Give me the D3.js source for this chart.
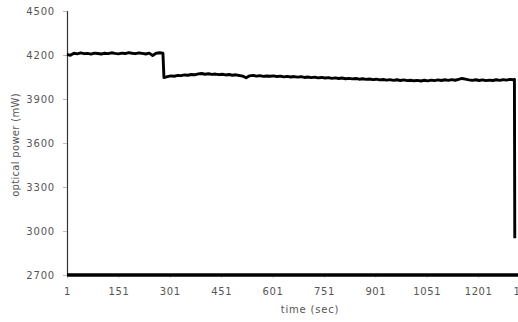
<!DOCTYPE html>
<html>
<head>
<meta charset="utf-8">
<script src="https://cdn.jsdelivr.net/npm/d3@7"></script>
<style>
  html, body { margin: 0; padding: 0; background: #fff; }
  svg { display: block; }
  text { font-family: "DejaVu Sans", sans-serif; fill: #555; }
</style>
</head>
<body>
<svg id="chart" width="518" height="322"></svg>
<script>
// ---- data ----
const xTicks = [1, 151, 301, 451, 601, 751, 901, 1051, 1201, 1351];
const yTicks = [2700, 3000, 3300, 3600, 3900, 4200, 4500];
const xTitle = "time (sec)";
const yTitle = "optical power (mW)";

// segment 1: readings every 10 s starting at t = 1
const seg1Start = 1;
const seg1 = [4205, 4198, 4212, 4208, 4214, 4209, 4211, 4206, 4213, 4210,
              4207, 4212, 4209, 4215, 4211, 4208, 4213, 4210, 4216, 4212,
              4209, 4214, 4211, 4207, 4213, 4197, 4212, 4215, 4213];
// segment 2: readings every 10 s starting at t = 284
const seg2Start = 284;
const seg2 = [4046, 4052, 4058, 4055, 4061, 4059, 4064, 4062, 4067, 4065,
              4071, 4074, 4069, 4072, 4068, 4070, 4066, 4069, 4064, 4067,
              4062, 4065, 4060, 4056, 4045, 4058, 4061, 4056, 4059, 4054,
              4057, 4055, 4058, 4053, 4056, 4051, 4054, 4050, 4053, 4049,
              4052, 4047, 4050, 4046, 4049, 4044, 4047, 4043, 4046, 4041,
              4044, 4040, 4043, 4038, 4041, 4037, 4040, 4035, 4038, 4034,
              4036, 4032, 4035, 4030, 4033, 4029, 4032, 4027, 4031, 4026,
              4030, 4025, 4028, 4024, 4027, 4023, 4028, 4024, 4029, 4025,
              4030, 4026, 4031, 4027, 4032, 4028, 4034, 4040, 4035, 4030,
              4027, 4031, 4026, 4030, 4025, 4029, 4026, 4031, 4027, 4032,
              4029, 4034, 4031];
// final readings: end of plateau and shutdown drop
const endTimes = [1307, 1308];
const endValues = [4033, 2950];

// ---- build series ----
const series = [];
seg1.forEach((v, i) => series.push({ t: seg1Start + i * 10, v }));
seg2.forEach((v, i) => series.push({ t: seg2Start + i * 10, v }));
endTimes.forEach((t, i) => series.push({ t, v: endValues[i] }));

// ---- scales ----
const svg = d3.select("#chart");
const x = d3.scaleLinear().domain([1, 1351]).range([67, 529.5]);
const y = d3.scaleLinear().domain([2700, 4500]).range([275, 11]);

// y axis
const yAxis = svg.append("g").attr("transform", "translate(67,0)")
  .call(d3.axisLeft(y).tickValues(yTicks).tickSize(4).tickPadding(8).tickFormat(d3.format("d")));
yAxis.select(".domain").attr("stroke", "#333").attr("stroke-width", 1.2);
yAxis.selectAll(".tick line").attr("stroke", "#bbb");
yAxis.selectAll(".tick text").attr("font-size", 10).attr("letter-spacing", "0.8px").attr("fill", "#555");

// x axis
const xAxis = svg.append("g").attr("transform", "translate(0,275)")
  .call(d3.axisBottom(x).tickValues(xTicks).tickSize(3).tickPadding(10).tickFormat(d3.format("d")));
xAxis.select(".domain").remove();
xAxis.selectAll(".tick line").attr("stroke", "#ccc");
xAxis.selectAll(".tick text").attr("font-size", 10).attr("letter-spacing", "0.6px").attr("fill", "#555");
// last label is cut by the right edge, as in the original figure
xAxis.selectAll(".tick text").filter(d => d === 1351)
  .attr("text-anchor", "start").attr("x", 513 - x(1351));
svg.append("line")
  .attr("x1", x(1)).attr("x2", 518)
  .attr("y1", y(2700)).attr("y2", y(2700))
  .attr("stroke", "#000").attr("stroke-width", 3.5);

// data line
svg.append("path")
  .datum(series)
  .attr("fill", "none")
  .attr("stroke", "#000")
  .attr("stroke-width", 2.9)
  .attr("stroke-linejoin", "round")
  .attr("d", d3.line().x(d => x(d.t)).y(d => y(d.v)));

// titles
svg.append("text")
  .attr("x", 310).attr("y", 313)
  .attr("text-anchor", "middle")
  .attr("font-size", 10).attr("letter-spacing", "0.8px")
  .text(xTitle);
svg.append("text")
  .attr("transform", "translate(19,145) rotate(-90)")
  .attr("text-anchor", "middle")
  .attr("font-size", 10).attr("letter-spacing", "0.3px")
  .text(yTitle);
</script>
</body>
</html>
